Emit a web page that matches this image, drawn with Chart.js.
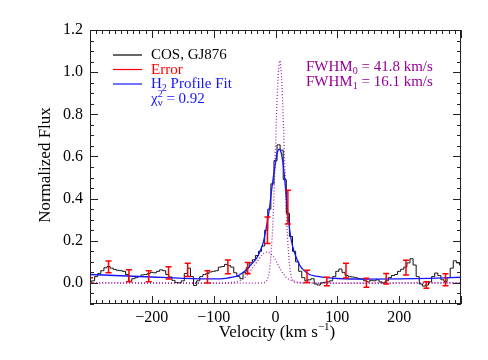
<!DOCTYPE html>
<html><head><meta charset="utf-8">
<script src="https://cdn.jsdelivr.net/npm/chart.js@4.4.0/dist/chart.umd.min.js"></script>
<style>html,body{margin:0;padding:0;background:#fff}#wrap{width:488px;height:360px;position:relative}</style>
</head><body><div id="wrap"><canvas id="c"></canvas></div>
<script>
// ---- data ----
const velocity = [-300,-295,-290,-285,-280,-275,-270,-265,-260,-255,-250,-245,-240,-235,-230,-225,-220,-215,-210,-205,
 -200,-195,-190,-185,-180,-175,-170,-165,-160,-155,-150,-145,-140,-135,-130,-125,-120,-115,-110,-105,
 -100,-95,-90,-85,-80,-75,-70,-65,-60,-55,-50,-45,-40,-35,-30,-25,-20,-15,-10,-5,
 0,5,10,15,20,25,30,35,40,45,50,55,60,65,70,75,80,85,90,95,
 100,105,110,115,120,125,130,135,140,145,150,155,160,165,170,175,180,185,190,195,
 200,205,210,215,220,225,230,235,240,245,250,255,260,265,270,275,280,285,290,295,300];
const cosFlux = [0.005,0.010,0.030,0.045,0.058,0.072,0.078,0.070,0.064,0.060,0.058,0.055,0.040,0.008,0.020,0.025,0.030,0.038,0.040,0.045,
 0.050,0.048,0.055,0.062,0.058,0.040,0.028,0.012,0.002,0.000,0.010,0.045,0.070,0.030,-0.012,0.010,0.030,0.040,0.045,0.052,
 0.055,0.058,0.075,0.078,0.088,0.082,0.075,0.048,0.030,0.020,0.050,0.072,0.095,0.110,0.130,0.150,0.175,0.250,0.350,0.470,
 0.580,0.655,0.630,0.490,0.330,0.220,0.150,0.100,0.055,0.025,0.010,0.015,0.020,-0.005,-0.010,0.000,0.003,0.005,0.010,0.030,
 0.055,0.066,0.050,0.035,0.030,0.028,0.025,0.020,0.018,0.010,0.005,0.012,0.010,0.015,0.005,0.000,0.010,0.025,0.035,0.040,
 0.055,0.065,0.075,0.095,0.115,0.085,0.030,-0.005,-0.015,-0.010,0.005,0.030,0.047,0.035,0.015,0.006,0.025,0.070,0.105,0.095,0.085];

const fitVel  = [-300,-250,-200,-150,-100,-80,-70,-60,-50,-45,-40,-30,-25,-20,-15,-10,-5,0,3,6,9,12,15,18,21,25,30,35,40,45,55,65,80,100,150,200,250,300];
const fitFlux = [0.040,0.034,0.028,0.022,0.019,0.022,0.027,0.035,0.055,0.068,0.085,0.12,0.15,0.19,0.26,0.35,0.47,0.57,0.62,0.635,0.62,0.57,0.49,0.39,0.30,0.21,0.15,0.11,0.08,0.062,0.040,0.032,0.026,0.021,0.018,0.019,0.022,0.027];

const narrowVel  = [-300,-20,-14,-10,-6,-3,0,3,5,7,9,11,14,17,20,24,28,35,300];
const narrowFlux = [0,0,0.012,0.055,0.19,0.38,0.64,0.90,1.01,1.055,1.01,0.90,0.64,0.38,0.19,0.055,0.012,0,0];
const broadVel   = [-300,-80,-70,-60,-50,-40,-30,-25,-20,-13,-5,0,5,10,15,20,30,40,50,300];
const broadFlux  = [0,0,0.003,0.008,0.025,0.06,0.10,0.12,0.138,0.147,0.13,0.11,0.08,0.055,0.035,0.02,0.008,0.002,0,0];

const errVel   = [-300,-270,-237,-205,-173,-142,-110,-77,-45,-13,20,51,83,114,147,179,211,244,275];
const errFlux  = [0.012,0.076,0.034,0.032,0.048,0.062,0.029,0.076,0.070,0.250,0.360,0.031,0.007,0.058,0.001,0.020,0.073,-0.010,0.015];
const errSigma = [0.012,0.028,0.028,0.026,0.029,0.031,0.029,0.033,0.027,0.063,0.080,0.029,0.020,0.035,0.021,0.025,0.035,0.015,0.028];

const xRange = [-300, 300];
const yRange = [-0.1, 1.2];
const xTickLabels = [-200,-100,0,100,200];
const yTickLabels = [0.0,0.2,0.4,0.6,0.8,1.0,1.2];
const xMajorTicks = [-300,-200,-100,0,100,200,300];
const xMinorStep = 10;
const yMinorStep = 0.05;

// ---- drawing ----
const SERIF = '"Liberation Serif","Times New Roman",serif';
const pts = (xs, ys) => xs.map((v,i)=>({x:v, y:ys[i]}));
const PURPLE = 'rgb(160,40,170)';
const TXTPURPLE = 'rgb(150,0,150)';
const BLUE = 'rgb(20,20,255)';
const RED = 'rgb(255,0,0)';

function rich(ctx, segs, x, y, align){
  let w = 0;
  segs.forEach(s=>{ctx.font = s[1]+'px '+SERIF; w += s[3]===false?0:ctx.measureText(s[0]).width;});
  let cx = align==='center' ? x - w/2 : x;
  segs.forEach(s=>{ctx.font = s[1]+'px '+SERIF; ctx.fillText(s[0], cx, y + (s[2]||0)); if(s[3]!==false) cx += ctx.measureText(s[0]).width;});
}

const decor = {
  id:'decor',
  afterDatasetsDraw(chart){
    const {ctx, scales:{x,y}, chartArea:a} = chart;
    ctx.save();
    ctx.beginPath(); ctx.rect(a.left, a.top, a.right-a.left, a.bottom-a.top); ctx.clip();
    ctx.strokeStyle = RED; ctx.lineWidth = 1.5;
    errVel.forEach((v,i)=>{
      const px = x.getPixelForValue(v);
      const y1 = y.getPixelForValue(errFlux[i]-errSigma[i]);
      const y2 = y.getPixelForValue(errFlux[i]+errSigma[i]);
      ctx.beginPath();
      ctx.moveTo(px, y1); ctx.lineTo(px, y2);
      ctx.moveTo(px-3, y1); ctx.lineTo(px+3, y1);
      ctx.moveTo(px-3, y2); ctx.lineTo(px+3, y2);
      ctx.stroke();
    });
    ctx.restore();
  },
  afterDraw(chart){
    const {ctx, scales:{x,y}, chartArea:a} = chart;
    ctx.save();
    ctx.strokeStyle = '#222'; ctx.lineWidth = 1;
    ctx.strokeRect(Math.round(a.left)+0.5, Math.round(a.top)+0.5, Math.round(a.right-a.left)-1, Math.round(a.bottom-a.top)-1);
    ctx.beginPath();
    for (let v = xRange[0]; v <= xRange[1]+1e-6; v += xMinorStep){
      const px = Math.round(x.getPixelForValue(v))+0.5;
      const len = xMajorTicks.includes(Math.round(v)) ? 8 : 4;
      ctx.moveTo(px, a.bottom); ctx.lineTo(px, a.bottom-len);
      ctx.moveTo(px, a.top); ctx.lineTo(px, a.top+len);
    }
    for (let k = 0; k*yMinorStep <= yRange[1]-yRange[0]+1e-6; k++){
      const v = yRange[0] + k*yMinorStep;
      const py = Math.round(y.getPixelForValue(v))+0.5;
      const major = Math.abs(v/0.2 - Math.round(v/0.2)) < 1e-6;
      const len = major ? 8 : 4;
      ctx.moveTo(a.left, py); ctx.lineTo(a.left+len, py);
      ctx.moveTo(a.right, py); ctx.lineTo(a.right-len, py);
    }
    ctx.stroke();

    // legend
    ctx.textBaseline = 'alphabetic'; ctx.textAlign = 'left';
    const rows = [
      {c:'#000', y:55, segs:[['COS, GJ876',15,0]]},
      {c:RED, y:69.5, segs:[['Error',15,0]]},
      {c:BLUE, y:84, segs:[['H',15,0],['2',10,3],[' Profile Fit',15,0]]},
    ];
    rows.forEach(r=>{
      ctx.strokeStyle = r.c; ctx.lineWidth = 1.2;
      ctx.beginPath(); ctx.moveTo(113, r.y); ctx.lineTo(142, r.y); ctx.stroke();
      ctx.fillStyle = r.c;
      rich(ctx, r.segs, 151, r.y+4);
    });
    ctx.fillStyle = BLUE;
    rich(ctx, [['\u03c7',15,0],['2',10,-6,false],['\u03bd',11,3],[' = 0.92',15,0]], 151, 103);

    ctx.fillStyle = TXTPURPLE;
    rich(ctx, [['FWHM',15,0],['0',10,3],[' = 41.8 km/s',15,0]], 306, 71);
    rich(ctx, [['FWHM',15,0],['1',10,3],[' = 16.1 km/s',15,0]], 306, 86);

    // axis titles
    ctx.fillStyle = '#000';
    rich(ctx, [['Velocity (km s',17,0],['\u22121',11,-7],[')',17,0]], 277, 337, 'center');
    ctx.translate(50, 165); ctx.rotate(-Math.PI/2);
    rich(ctx, [['Normalized Flux',17,0]], 0, 0, 'center');
    ctx.restore();
  }
};

new Chart(document.getElementById('c'), {
  type:'line',
  data:{datasets:[
    {data:pts(narrowVel, narrowFlux), borderColor:PURPLE, borderWidth:1.3, borderDash:[1,2], pointRadius:0, tension:0.35, order:4},
    {data:pts(broadVel, broadFlux), borderColor:PURPLE, borderWidth:1.3, borderDash:[1,2], pointRadius:0, tension:0.35, order:5},
    {data:pts(velocity, cosFlux), borderColor:'#111', borderWidth:1, pointRadius:0, stepped:'middle', order:3},
    {data:pts(fitVel, fitFlux), borderColor:BLUE, borderWidth:1.3, pointRadius:0, cubicInterpolationMode:'monotone', order:1},
  ]},
  options:{
    responsive:true, maintainAspectRatio:false, animation:false,
    layout:{padding:{left:0, right:27, top:30, bottom:0}},
    plugins:{legend:{display:false}, tooltip:{enabled:false}},
    scales:{
      x:{type:'linear', min:xRange[0], max:xRange[1],
         grid:{display:false, drawTicks:false}, border:{display:false},
         afterBuildTicks:s=>{s.ticks = xTickLabels.map(v=>({value:v}));},
         afterFit:s=>{s.height = 56;},
         ticks:{font:{family:SERIF, size:16}, color:'#000', padding:4, maxRotation:0,
                callback:v=> (v<0?'\u2212':'')+Math.abs(v)}},
      y:{type:'linear', min:yRange[0], max:yRange[1],
         grid:{display:false, drawTicks:false}, border:{display:false},
         afterBuildTicks:s=>{s.ticks = yTickLabels.map(v=>({value:v}));},
         afterFit:s=>{s.width = 90;},
         ticks:{font:{family:SERIF, size:16}, color:'#000', padding:7,
                callback:v=>Number(v).toFixed(1)}}
    }
  },
  plugins:[decor]
});
</script></body></html>
